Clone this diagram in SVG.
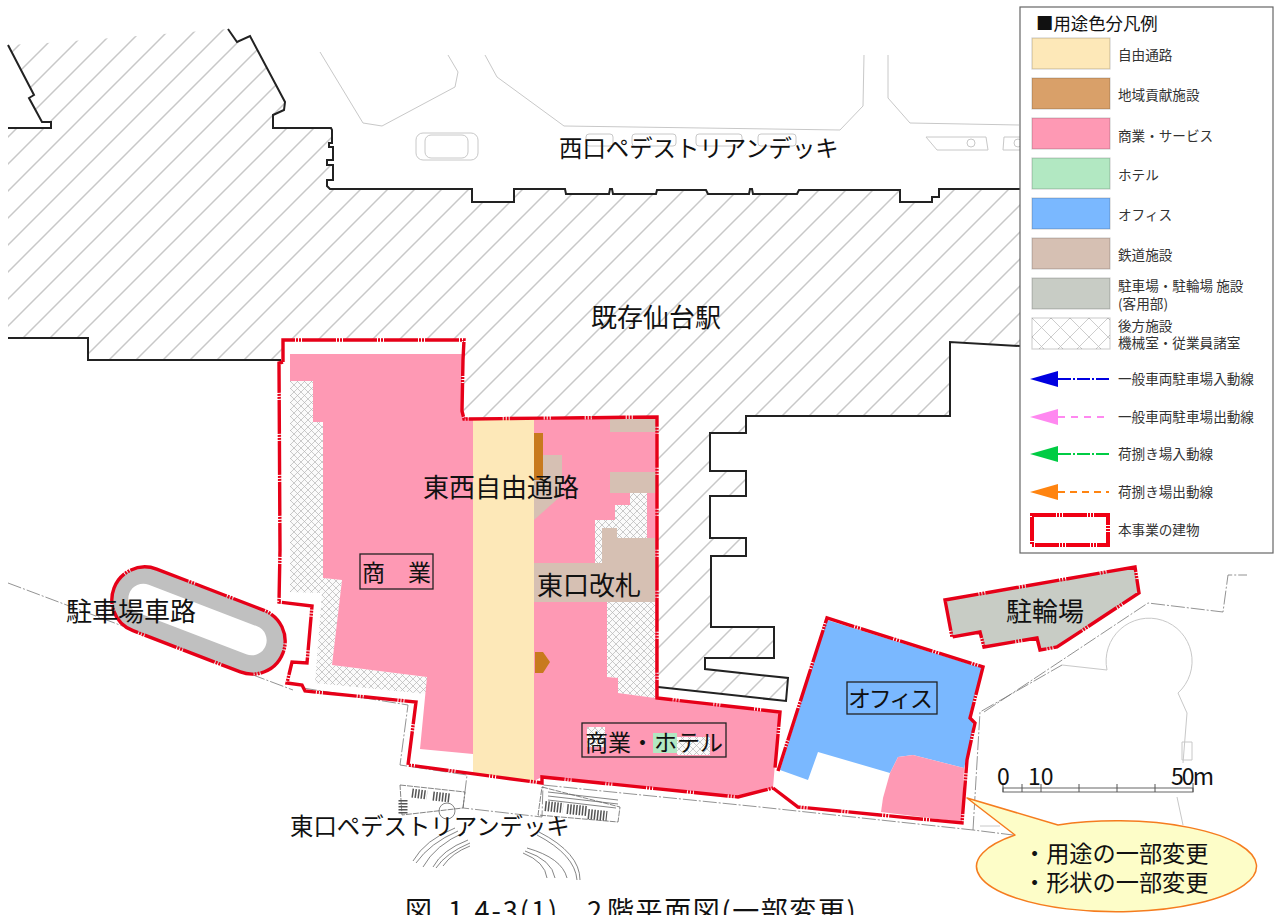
<svg xmlns="http://www.w3.org/2000/svg" width="1279" height="915" viewBox="0 0 1279 915">
<style>
text{font-family:"Noto Sans CJK JP","Noto Sans",sans-serif;fill:#111}
.l{font-size:13.6px;fill:#333}
.big{font-size:26px}
.mid{font-size:23.4px}
.out{fill:none;stroke:#222;stroke-width:2;stroke-linejoin:miter}
.red{fill:none;stroke:#e60018;stroke-width:3.4;stroke-dasharray:34 1 2 1 2 1;stroke-linejoin:miter}
.faint{fill:none;stroke:#c8c8c8;stroke-width:1}
.site{fill:none;stroke:#777;stroke-width:.8;stroke-dasharray:14 2 2 2}
.stair{fill:none;stroke:#666;stroke-width:.8}
.tread{fill:none;stroke:#555;stroke-dasharray:1.5 1.5}
.box{fill:none;stroke:#222;stroke-width:1.3}
.sw{stroke:#000;stroke-opacity:.18;stroke-width:1.2}
.ph{fill:#fe99b4}
.rw{fill:#d6c0b3}
.xh{fill:url(#xh)}
</style>
<defs>
<pattern id="hatch" width="27" height="27" patternUnits="userSpaceOnUse" patternTransform="translate(10,0)">
<path d="M-2,2 L2,-2 M0,27 L27,0 M25,29 L29,25" stroke="#c8c8c8" stroke-width="1.5" fill="none"/>
</pattern>
<pattern id="xh" width="7" height="7" patternUnits="userSpaceOnUse">
<rect width="7" height="7" fill="#fbfbfb"/>
<path d="M0,0 L7,7 M7,0 L0,7" stroke="#b5b5b5" stroke-width=".7" fill="none"/>
</pattern>
<pattern id="xhl" width="19" height="19" patternUnits="userSpaceOnUse" patternTransform="translate(1032,318)">
<rect width="19" height="19" fill="#fff"/>
<path d="M0,0 L19,19 M19,0 L0,19" stroke="#c0c0c0" stroke-width=".8" fill="none"/>
</pattern>
</defs>
<rect width="1279" height="915" fill="#fff"/>

<g id="existing-station">
<polygon fill="url(#hatch)" points="8,45 34,95 29,98 42,122 51,122 51,128 8,128 8,338 88,338 88,360 281,360 283,340 464,340 463,411 464,419 657,417 657,687 786,701 788,678 705,669 705,658 774,658 774,627 711,627 711,556 746,556 746,538 710,538 710,496 746,496 746,471 710,471 710,433 746,433 746,416 950,416 950,342 1020,346 1020,189 939,189 939,197 932,197 932,202 900,202 900,190 799,190 797,194 753,194 752,189 750,189 749,194 708,194 706,190 657,190 656,194 613,194 612,189 610,189 609,194 566,194 565,189 514,189 514,202 472,202 472,189 330,189 327,186 327,180 333,180 333,165 327,165 327,160 333,160 333,147 329,147 329,143 332,143 332,130 331,128 273,128 273,115 284,110 285,102 250,36 237,42 228,29 47,43"/>
<path class="out" d="M8,45 L34,95 L29,98 L42,122 L51,122 L51,128 L8,128"/>
<path class="out" d="M228,29 L237,42 L250,36 L285,102 L284,110 L273,115 L273,128 L331,128 L332,130 L332,143 L329,143 L329,147 L333,147 L333,160 L327,160 L327,165 L333,165 L333,180 L327,180 L327,186 L330,189 L472,189 L472,202 L514,202 L514,189 L565,189 L566,194 L609,194 L610,189 L612,189 L613,194 L656,194 L657,190 L706,190 L708,194 L749,194 L750,189 L752,189 L753,194 L797,194 L799,190 L900,190 L900,202 L932,202 L932,197 L939,197 L939,189 L1020,189"/>
<path class="out" d="M8,338 L88,338 L88,360 L281,360"/>
<path class="out" d="M1020,346 L950,342 L950,416 L746,416 L746,433 L710,433 L710,471 L746,471 L746,496 L710,496 L710,538 L746,538 L746,556 L711,556 L711,627 L774,627 L774,658 L705,658 L705,669 L788,678 L786,701 L658,687"/>
</g>
<text x="591" y="327" class="big">既存仙台駅</text>

<g id="west-deck">
<path class="faint" d="M320,52 L363,123 L382,126 L455,87 L458,72 L448,55"/>
<path class="faint" d="M485,55 L497,77 L564,126 L840,130 L863,106 L864,55"/>
<path class="faint" d="M888,55 L888,98 L910,123 L1019,125"/>
<rect class="faint" x="416" y="133" width="62" height="27" rx="7"/>
<rect class="faint" x="425" y="135" width="43" height="23" rx="6"/>
<rect class="faint" x="586" y="134" width="27" height="12" rx="3"/>
<rect class="faint" x="632" y="134" width="44" height="12" rx="3"/>
<rect class="faint" x="696" y="134" width="46" height="12" rx="3"/>
<rect class="faint" x="758" y="134" width="38" height="12" rx="3"/>
<path class="faint" d="M926,137 L986,137 L988,150 L937,150 Z"/>
<circle class="faint" cx="971" cy="143" r="4"/>
<path class="faint" d="M1020,137 L1004,137 L1003,150 L1020,150"/>
<circle class="faint" cx="1018" cy="143" r="4"/>
</g>
<text x="559" y="157" class="mid">西口ペデストリアンデッキ</text>

<g id="site-lines">
<path class="site" d="M8,583 L293,690"/>
<path class="site" d="M303,688 L408,705 L400,765 L467,775 L463,808 L542,817 L543,785 L760,807 L973,830 L1013,835"/>
<path class="site" d="M973,830 L980,712 L1062,665"/>
<path class="site" d="M984,712 L1148,603 L1223,612 L1228,575 L1247,575"/>
<path class="faint" d="M1062,665 L1107,670 A43,43 0 1 1 1178,693 L1187,713 L1183,763 M1182,742 L1192,742 L1192,760 L1182,760 Z M1177,797 L1183,825 M980,826 L1000,826"/>
</g>

<g id="stairs">
<path class="stair" d="M400,785 L465,792 L463,808 L402,815 Z" stroke-dasharray="6 1"/>
<path class="tread" style="stroke-width:9" d="M412,793 L427,795 M433,796 L450,798"/>
<path class="tread" style="stroke-width:9" d="M403,800 L403,815"/>
<circle class="stair" cx="447" cy="811" r="8" fill="#fff"/>
<path class="stair" d="M542,787 L620,807 L618,822 L538,815 Z" stroke-dasharray="6 1"/>
<path class="stair" d="M548,792 L618,800 M548,796 L618,804 M548,800 L616,808"/>
<path class="tread" style="stroke-width:10" d="M545,806 L563,808 M567,809 L587,811 M588,814 L607,816"/>
<path class="stair" d="M413,861 Q425,840 455,828 M416,863 Q430,843 458,831 M423,867 Q435,845 465,832 M433,867 Q442,850 468,840 M436,868 Q446,853 470,843 M443,866 Q452,853 470,846"/>
<path class="stair" d="M537,835 Q575,855 577,880 M539,832 Q580,853 580,880 M527,848 Q562,858 567,878 M525,851 Q552,860 555,878 M523,853 Q545,862 547,878"/>
</g>

<g id="main-building">
<polygon class="xh" points="290,381 313,381 313,422 323,422 323,578 342,580 332,665 427,677 427,694 315,683 322,593 290,592"/>
<polygon class="xh" points="595,520 615,520 615,505 630,505 630,493 647,493 647,538 617,538 617,528 602,528 602,563 595,563"/>
<polygon class="xh" points="607,602 655,602 655,698 618,693 618,678 607,677"/>
<polygon class="ph" points="290,354 462,354 462,416 473,419 473,754 420,749 427,677 332,665 342,580 323,578 323,422 313,422 313,381 290,381"/>
<path class="ph" d="M534,419 H657 V698 L779,713 L773,788 L738,796 L542,777 L534,781 Z M595,520 L615,520 L615,505 L630,505 L630,493 L647,493 L647,538 L617,538 L617,528 L602,528 L602,563 L595,563 Z M607,602 L655,602 L655,698 L618,693 L618,678 L607,677 Z" fill-rule="evenodd"/>
<polygon points="473,419 534,419 534,781 473,773" fill="#fde8b8"/>
<rect class="rw" x="610" y="419" width="46" height="13"/>
<rect class="rw" x="610" y="472" width="46" height="21"/>
<polygon class="rw" points="534,455 562,455 562,495 534,520"/>
<polygon class="rw" points="602,528 617,528 617,538 655,538 655,602 534,602 534,563 602,563"/>
<rect x="534" y="433" width="9" height="47" fill="#c87a1e"/>
<polygon points="535,652 543,652 550,662 543,673 535,673" fill="#c87a1e"/>
<rect class="xh" x="587" y="727" width="18" height="20"/>
<rect class="xh" x="677" y="737" width="33" height="18"/>
<rect x="653" y="733" width="24" height="20" fill="#b2e8c2"/>
<path class="red" d="M283,362 L283,340 L464,340 L463,360 L462,411 L464,419 L657,417 L657,698 L780,712 L775,768"/>
<path class="red" d="M283,362 L279,363 L280,550 L279,602 L312,606 L307,663 L292,662 L287,683 L302,685 L305,691 L416,702 L408,765 L542,783 L542,777 L738,797 L773,788"/>
</g>
<text x="423" y="497" class="big">東西自由通路</text>
<text x="537" y="595" class="big">東口改札</text>
<g id="label-shogyo"><rect class="box" x="360" y="554" width="73" height="35"/><text x="362" y="581" font-size="23">商　業</text></g>
<g id="label-shogyo-hotel"><rect class="box" x="582" y="723" width="144" height="34"/><text x="585" y="751" font-size="23" textLength="138">商業・ホテル</text></g>

<g id="office">
<polygon points="827,620 982,668 969,716 973,722 972,732 966,760 964,768 913,755 898,757 890,773 818,752 808,780 780,770" fill="#7ab8ff"/>
<polygon class="ph" points="898,757 913,755 964,768 962,822 881,812 883,798 890,773"/>
<path class="red" d="M773,788 L798,807 L962,823 L967,760 L973,732 L975,723 L970,718 L983,667 L827,618 L778,771"/>
<rect class="box" x="847" y="682" width="90" height="32"/>
<text x="848" y="707" font-size="23" textLength="85">オフィス</text>
</g>

<g id="bicycle-parking">
<polygon points="945,600 1135,567 1139,593 1057,647 1040,650 1037,638 984,647 980,632 952,637" fill="#c8ccc5"/>
<polygon class="red" points="945,600 1135,567 1139,593 1057,647 1040,650 1037,638 984,647 980,632 952,637"/>
<text x="1006" y="621" class="big">駐輪場</text>
</g>

<g id="parking-ramp">
<rect x="-90.5" y="-33" width="181" height="66" rx="33" transform="translate(198.5,620.5) rotate(21)" fill="#c0c0c0"/>
<rect x="-73" y="-15" width="146" height="30" rx="15" transform="translate(197.5,619.5) rotate(21)" fill="#fff"/>
<rect class="red" x="-90.5" y="-33" width="181" height="66" rx="33" transform="translate(198.5,620.5) rotate(21)"/>
<text x="66" y="621" class="big">駐車場車路</text>
</g>

<text x="290" y="835" class="mid">東口ペデストリアンデッキ</text>

<g id="scale">
<rect x="1003" y="788" width="190" height="4" fill="#fff" stroke="#666" stroke-width="1"/>
<path d="M1003,783 V792 M1022,784 V792 M1041,784 V792 M1079,784 V792 M1117,784 V792 M1155,784 V792 M1193,783 V792" stroke="#555" stroke-width="1" fill="none"/>
<text x="997" y="785" font-size="23">0</text>
<text x="1028" y="785" font-size="23">10</text>
<text x="1171" y="785" font-size="23" textLength="43">50m</text>
</g>

<g id="callout">
<path d="M967,798 L1058,825 A140,45.5 0 1 1 1015,835 Z" fill="#fdfdc8" stroke="#f57c1f" stroke-width="1.5" stroke-linejoin="round"/>
<text x="1023" y="862" font-size="23.2">・用途の一部変更</text>
<text x="1023" y="891" font-size="23.2">・形状の一部変更</text>
</g>

<text x="405" y="921" font-size="27"><tspan>図</tspan><tspan x="448" letter-spacing="2">1.4-3(1)</tspan><tspan x="587">2</tspan><tspan x="607" letter-spacing="1.6">階平面図(一部変更)</tspan></text>

<g id="legend">
<rect x="1020" y="7" width="253" height="546" fill="#fff" stroke="#666" stroke-width="1.2"/>
<text x="1036" y="30" font-size="17.4">■用途色分凡例</text>
<rect class="sw" x="1032" y="38" width="78" height="31" fill="#fde8b8"/>
<rect class="sw" x="1032" y="78" width="78" height="31" fill="#d9a069"/>
<rect class="sw" x="1032" y="118" width="78" height="31" fill="#fe99b4"/>
<rect class="sw" x="1032" y="158" width="78" height="31" fill="#b2e8c2"/>
<rect class="sw" x="1032" y="198" width="78" height="31" fill="#7ab8ff"/>
<rect class="sw" x="1032" y="238" width="78" height="31" fill="#d6c0b3"/>
<rect class="sw" x="1032" y="278" width="78" height="31" fill="#c8ccc5"/>
<rect class="sw" x="1032" y="318" width="78" height="31" fill="url(#xhl)"/>
<text class="l" x="1118" y="60">自由通路</text>
<text class="l" x="1118" y="100">地域貢献施設</text>
<text class="l" x="1118" y="141">商業・サービス</text>
<text class="l" x="1118" y="180">ホテル</text>
<text class="l" x="1118" y="220">オフィス</text>
<text class="l" x="1118" y="260">鉄道施設</text>
<text class="l" x="1118" y="291">駐車場・駐輪場 施設</text>
<text class="l" x="1118" y="309">(客用部)</text>
<text class="l" x="1118" y="331">後方施設</text>
<text class="l" x="1118" y="348">機械室・従業員諸室</text>
<text class="l" x="1118" y="384">一般車両駐車場入動線</text>
<text class="l" x="1118" y="422">一般車両駐車場出動線</text>
<text class="l" x="1118" y="459">荷捌き場入動線</text>
<text class="l" x="1118" y="497">荷捌き場出動線</text>
<text class="l" x="1118" y="535">本事業の建物</text>
<polygon points="1030,379 1058,371 1058,387" fill="#0000e0"/>
<path d="M1058,379 H1109" stroke="#0000e0" stroke-width="2" stroke-dasharray="13 2 2 2" fill="none"/>
<polygon points="1030,417 1058,409 1058,425" fill="#ff88f0"/>
<path d="M1058,417 H1109" stroke="#ff88f0" stroke-width="2" stroke-dasharray="7 6" fill="none"/>
<polygon points="1030,454 1058,446 1058,462" fill="#00cc44"/>
<path d="M1058,454 H1109" stroke="#00cc44" stroke-width="2" stroke-dasharray="13 2 2 2" fill="none"/>
<polygon points="1030,492 1058,484 1058,500" fill="#ff8410"/>
<path d="M1058,492 H1109" stroke="#ff8410" stroke-width="2" stroke-dasharray="7 5" fill="none"/>
<rect x="1032" y="515" width="76" height="30" fill="#fff" stroke="#f00014" stroke-width="4" stroke-dasharray="24 1 2 1 2 1"/>
</g>
</svg>
